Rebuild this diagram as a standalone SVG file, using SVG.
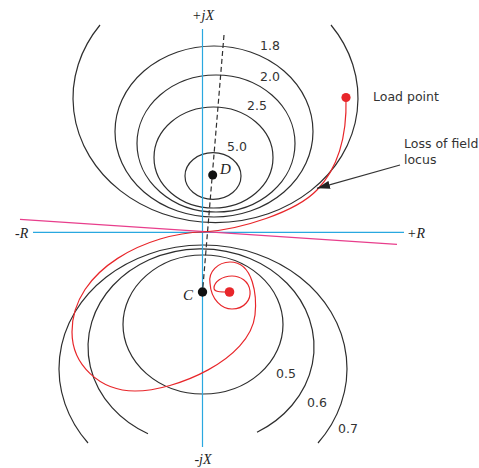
<svg xmlns="http://www.w3.org/2000/svg" width="479" height="468" viewBox="0 0 479 468">
<defs>
<style>
.c{fill:none;stroke:#2e2e2e;stroke-width:1.2}
.ax{stroke:#29a8e0;stroke-width:1.2;fill:none}
.num{font-family:"DejaVu Sans",sans-serif;font-size:12.5px;fill:#333}
.it{font-family:"Liberation Serif",serif;font-style:italic;font-size:14px;fill:#222}
.pt{font-family:"Liberation Serif",serif;font-style:italic;font-size:15px;fill:#222}
.red{fill:none;stroke:#e8262a;stroke-width:1.2}
</style>
<marker id="ah" viewBox="0 0 13 8" refX="13" refY="4" markerWidth="13" markerHeight="8" markerUnits="userSpaceOnUse" orient="auto">
<path d="M0,0 L13,4 L0,8 Z" fill="#222"/>
</marker>
</defs>
<rect width="479" height="468" fill="#fff"/>
<g id="upper-circles">
<path class="c" d="M100,25 A142.5,124.6 0 1 0 331,25"/>
<ellipse class="c" cx="214" cy="131.5" rx="99" ry="85.5"/>
<ellipse class="c" cx="216" cy="143.5" rx="79" ry="68.5"/>
<ellipse class="c" cx="213.5" cy="157.5" rx="59.5" ry="50.5"/>
<ellipse class="c" cx="213" cy="176" rx="28" ry="23.3"/>
</g>
<g id="lower-circles">
<ellipse class="c" cx="203" cy="324.5" rx="80" ry="69.5"/>
<path class="c" d="M148,433.7 A113,98.2 0 1 1 257,432.3"/>
<path class="c" d="M88,443 A144,123.6 0 1 1 318,443"/>
</g>
<g id="axes">
<line class="ax" x1="202.5" y1="29" x2="202.5" y2="447"/>
<line class="ax" x1="33" y1="232.3" x2="404" y2="232.3"/>
</g>
<g id="connectors">
<line x1="224" y1="35" x2="202.5" y2="292" stroke="#2e2e2e" stroke-width="1.2" stroke-dasharray="5,3"/>
<line x1="20" y1="219.3" x2="397" y2="244.3" stroke="#e83e8c" stroke-width="1.2"/>
<path class="red" d="M346,98 C347,135 338,168 317,190 C296,212 240,230 203,232 C150,233 72,268 72,332 C72,365 100,391 135,391 C175,391 250,360 255,315 C257,297 254,262 230,262 C218,262 208,272 210,283 C211,300 222,309 232,309 C245,309 251,299 250,291 C249,281 240,276 232,276 C222,276 214,282 214,288 C214,292 220,292 229,292"/>
<line x1="400" y1="165" x2="317" y2="188.3" stroke="#333" stroke-width="1.2" marker-end="url(#ah)"/>
</g>
<g id="node-D">
<circle cx="212.7" cy="175" r="4.5" fill="#111"/>
<text class="pt" x="220" y="174">D</text>
</g>
<g id="node-C">
<circle cx="202.5" cy="292" r="4.7" fill="#111"/>
<text class="pt" x="183" y="300">C</text>
</g>
<g id="load-point">
<circle cx="346" cy="97.5" r="4.6" fill="#e8262a"/>
<text class="num" x="373" y="101">Load point</text>
</g>
<g id="final-point">
<circle cx="229.5" cy="292" r="4.8" fill="#e8262a"/>
</g>
<g id="label-locus">
<text class="num" x="404" y="148">Loss of field</text>
<text class="num" x="404" y="164">locus</text>
</g>
<g id="labels">
<text class="num" x="260" y="50">1.8</text>
<text class="num" x="260" y="81">2.0</text>
<text class="num" x="247" y="110">2.5</text>
<text class="num" x="227" y="151">5.0</text>
<text class="num" x="276" y="378">0.5</text>
<text class="num" x="307" y="407">0.6</text>
<text class="num" x="338" y="433">0.7</text>
<text class="it" x="203" y="20" text-anchor="middle">+jX</text>
<text class="it" x="203" y="464" text-anchor="middle">-jX</text>
<text class="it" x="15" y="237.5">-R</text>
<text class="it" x="407" y="237.5">+R</text>
</g>
</svg>
